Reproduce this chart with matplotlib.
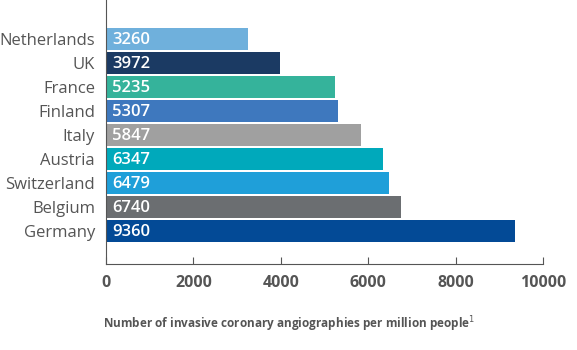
import matplotlib
matplotlib.use('Agg')
import matplotlib.pyplot as plt

# データ
countries = ['Netherlands', 'UK', 'France', 'Finland', 'Italy',
             'Austria', 'Switzerland', 'Belgium', 'Germany']
values = [3260, 3972, 5235, 5307, 5847, 6347, 6479, 6740, 9360]
colors = ['#6fb0dc', '#1b3a63', '#35b39b', '#3e78be', '#a0a0a0',
          '#00a9bb', '#1f9fd9', '#6b6e71', '#034a96']
xticks = [0, 2000, 4000, 6000, 8000, 10000]

plt.rcParams['font.family'] = ['Open Sans', 'DejaVu Sans']

fig = plt.figure(figsize=(5.77, 3.5), dpi=100)
ax = fig.add_axes([0.1837, 0.2457, 0.7573, 0.7543])

ypos = list(range(len(countries)))[::-1]
ax.barh(ypos, values, height=0.9, color=colors)

for y, v in zip(ypos, values):
    ax.text(140, y - 0.05, str(v), color='white', fontsize=12,
            fontweight='semibold', va='center', ha='left')

ax.set_xlim(0, 10000)
ax.set_ylim(-1.375, 9.625)
ax.set_yticks(ypos)
ax.set_yticklabels(countries, fontsize=12, color='#555555')
ax.tick_params(axis='y', length=0, pad=8)
ax.set_xticks(xticks)
ax.set_xticklabels([str(t) for t in xticks], fontsize=11.5,
                   fontweight='bold', color='#555555')
ax.tick_params(axis='x', direction='in', length=5, color='#555555', pad=8)

for s in ['top', 'right']:
    ax.spines[s].set_visible(False)
for s in ['left', 'bottom']:
    ax.spines[s].set_color('#555555')

fig.text(0.178, 0.062, 'Number of invasive coronary angiographies per million people$^{1}$',
         fontsize=8.5, fontweight='bold', color='#555555')

fig.savefig('out.png', dpi=100)
